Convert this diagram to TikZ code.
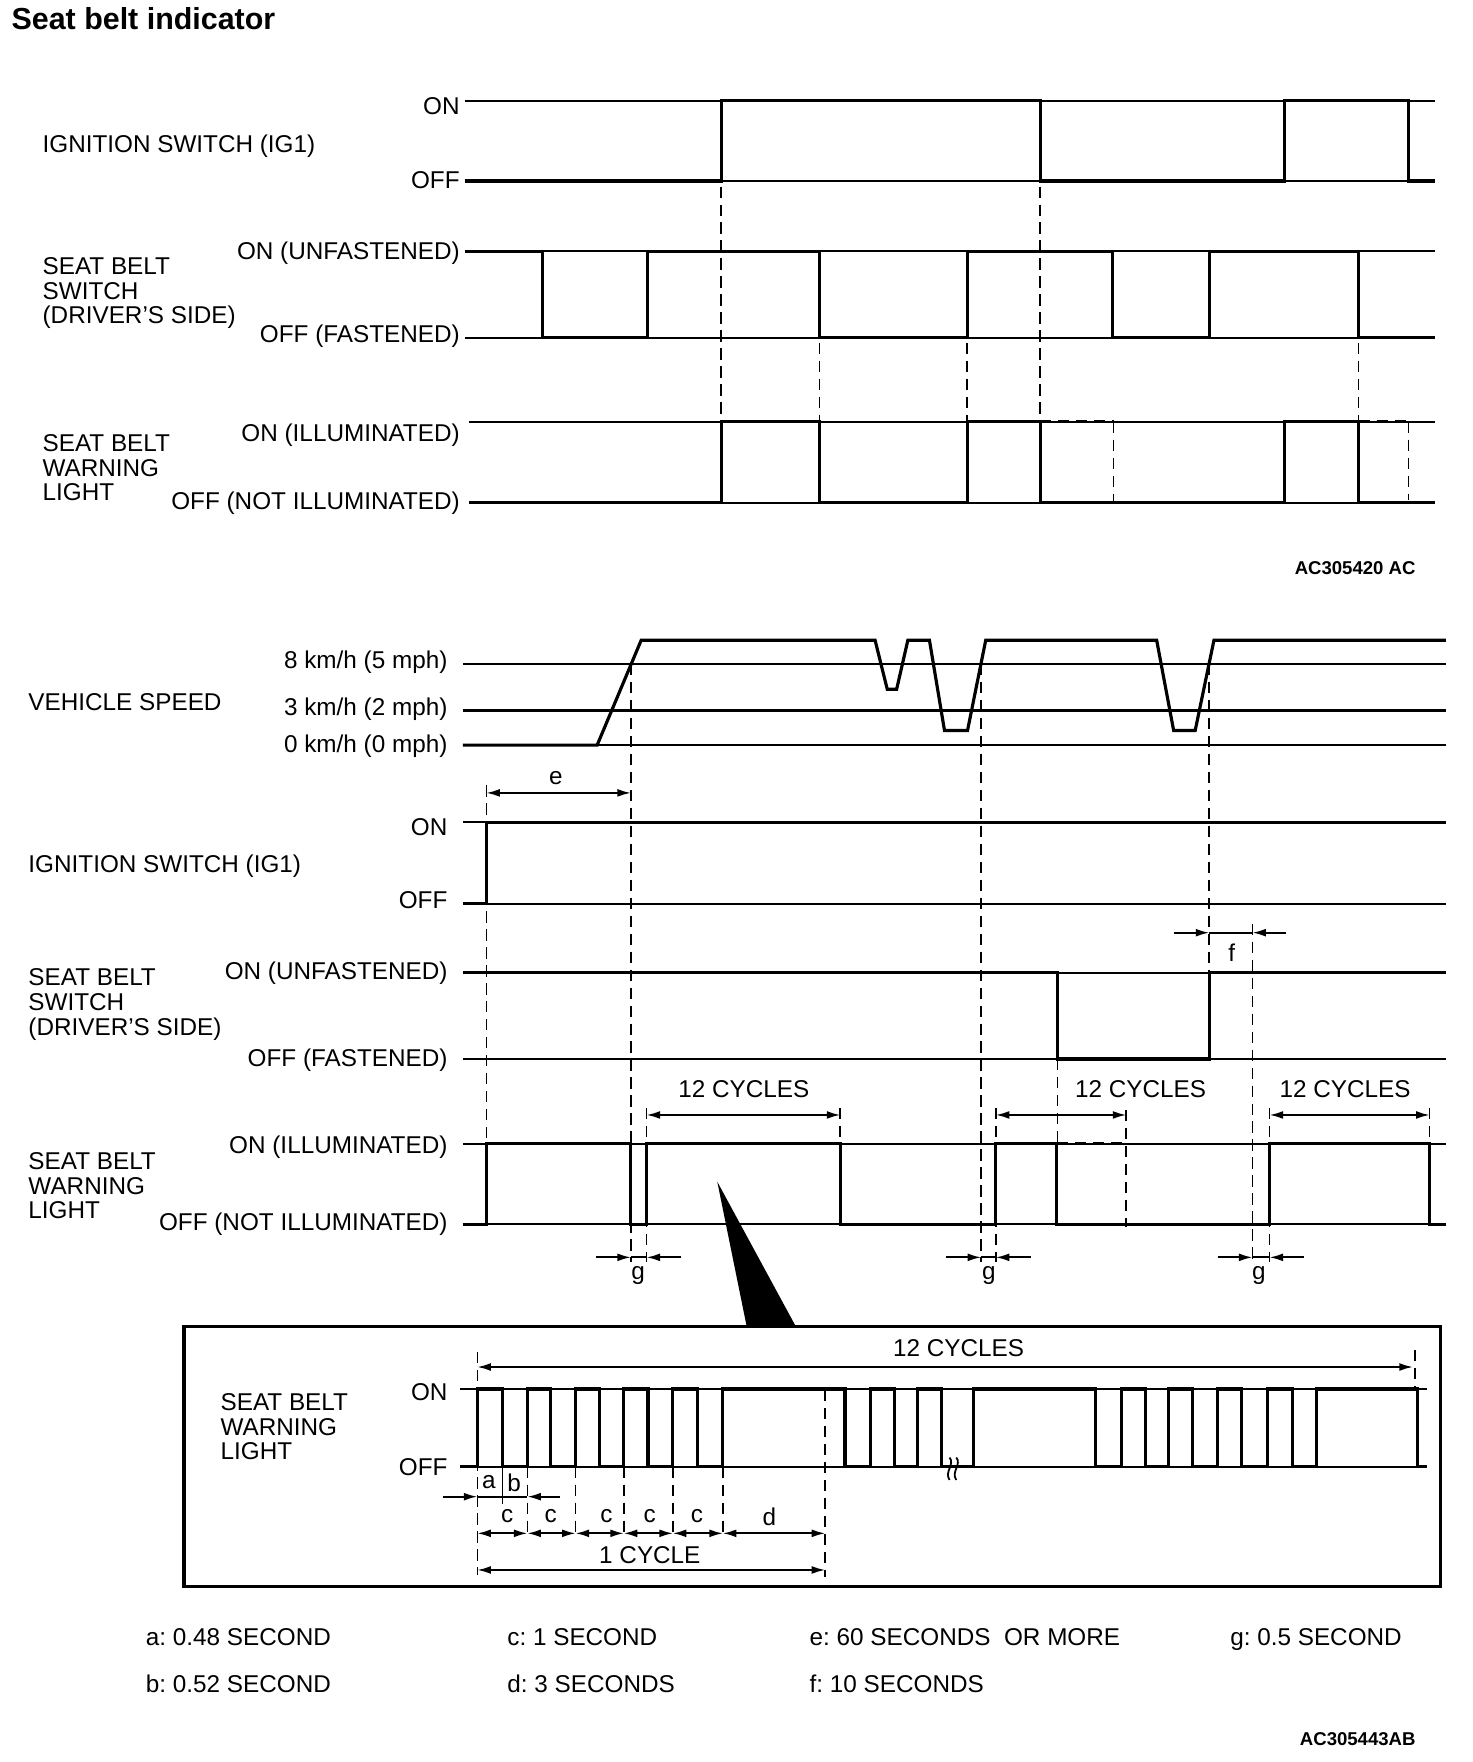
\documentclass[tikz,border=0pt]{standalone}
\usepackage{fontspec}
\setmainfont{Liberation Sans}
\usetikzlibrary{arrows.meta}
\frenchspacing
\tikzset{>={Latex[length=2.4mm,width=1.4mm]},
  base/.style={line width=1pt},
  wave/.style={line width=1.6pt},
  guide/.style={line width=0.85pt, dash pattern=on 2mm off 1.2mm},
  dim/.style={line width=0.9pt, <->},
  tip/.style={line width=0.9pt, ->},
  lbl/.style={inner sep=0pt, text height=8.8pt, text depth=0pt},
  lvl/.style={lbl, anchor=east},
  key/.style={lbl, anchor=west},
  sig/.style={anchor=west, inner sep=0pt, align=left},
  code/.style={anchor=east, inner sep=0pt, font=\bfseries\fontsize{9.4}{10}\selectfont}}

\begin{document}
\begin{tikzpicture}[x=0.2mm, y=-0.2mm, font=\fontsize{12.3}{12.5}\selectfont]
  \useasboundingbox (0,0) rectangle (1310,1568);
  \node[anchor=west, inner sep=0pt, font=\bfseries\fontsize{15.4}{17}\selectfont] (title) at (10,17) {Seat belt indicator};

  % upper chart
  \foreach \y in {89.6,161.1,223.7,300.4} \draw[base] (413.6,\y) -- (1276.6,\y);
  \foreach \y in {375.3,447.2} \draw[base] (417.7,\y) -- (1276.6,\y);
  \node[lvl] (ig1on)  at (409.4,94.5) {ON};
  \node[lvl] (ig1off) at (409.4,160) {OFF};
  \node[key] (ig1)    at (37.6,127.7) {IGNITION SWITCH (IG1)};
  \node[lvl] (sw1on)  at (409.4,223) {ON (UNFASTENED)};
  \node[lvl] (sw1off) at (409.4,297) {OFF (FASTENED)};
  \node[sig] (sw1)    at (37.6,261) {SEAT BELT\\SWITCH\\(DRIVER'S SIDE)};
  \node[lvl] (wl1on)  at (409.4,385) {ON (ILLUMINATED)};
  \node[lvl] (wl1off) at (409.4,446) {OFF (NOT ILLUMINATED)};
  \node[sig] (wl1)    at (37.6,416.2) {SEAT BELT\\WARNING\\LIGHT};
  \draw[wave] (413.6,161.1) \foreach \u/\d in {641.7/925.7, 1143/1253.3} { -| (\u,89.6) -| (\d,161.1) } -- (1276.6,161.1);
  \draw[wave] (413.6,223.7) \foreach \d/\u in {483/576.5, 729.4/860.6, 990/1076} { -| (\d,300.4) -| (\u,223.7) } -| (1209,300.4) -- (1276.6,300.4);
  \draw[wave] (417.7,447.2) \foreach \u/\d in {641.7/729.4, 860.6/925.7, 1143/1209} { -| (\u,375.3) -| (\d,447.2) } -- (1276.6,447.2);
  \draw[guide, line width=1.3pt] (925.7,375.3) -- (990.9,375.3);
  \draw[guide, line width=1.3pt] (1209,375.3) -- (1253.3,375.3);
  \draw[guide] (990.9,375.3) -- (990.9,447.2);
  \draw[guide] (1253.3,375.3) -- (1253.3,445);
  \foreach \x in {641.7,925.7} \draw[guide] (\x,166) -- (\x,375.3);
  \foreach \x in {729.4,860.6,1209} \draw[guide] (\x,305) -- (\x,375.3);
  \node[code] (fig1) at (1260,505.8) {AC305420 AC};

  % vehicle speed
  \foreach \y in {590.8,663.1} \draw[base] (411.9,\y) -- (1286.7,\y);
  \draw[base, line width=1.5pt] (411.9,632.5) -- (1286.7,632.5);
  \node[lvl] (v8) at (398.5,586.8) {8 km/h (5 mph)};
  \node[lvl] (v3) at (398.5,629.3) {3 km/h (2 mph)};
  \node[lvl] (v0) at (398.5,662.3) {0 km/h (0 mph)};
  \node[key] (vs) at (25,624.5) {VEHICLE SPEED};
  \draw[wave] (411.9,663.1) -- (531.4,663.1) -- (570.6,569.7) -- (778.7,569.7) -- (789.6,613.4) -- (797.9,613.4)
    -- (807.9,569.7) -- (827.1,569.7) -- (840.5,650) -- (861,650) -- (877.2,569.7) -- (1029.3,569.7)
    -- (1044.4,650) -- (1063.6,650) -- (1080.3,569.7) -- (1286.7,569.7);

  % ignition, lower chart
  \foreach \y in {731.8,804.1} \draw[base] (411.9,\y) -- (1286.7,\y);
  \node[lvl] (ig2on)  at (398.5,735.8) {ON};
  \node[lvl] (ig2off) at (398.5,801) {OFF};
  \node[key] (ig2)    at (25,769) {IGNITION SWITCH (IG1)};
  \draw[wave] (411.9,804.1) -| (432.8,731.8) -- (1286.7,731.8);

  % seat belt switch, lower chart
  \foreach \y in {865.7,942.4} \draw[base] (411.9,\y) -- (1286.7,\y);
  \node[lvl] (sw2on)  at (398.5,863.7) {ON (UNFASTENED)};
  \node[lvl] (sw2off) at (398.5,941.2) {OFF (FASTENED)};
  \node[sig] (sw2)    at (25,894) {SEAT BELT\\SWITCH\\(DRIVER'S SIDE)};
  \draw[wave] (411.9,865.7) -| (941,942.4) -| (1076.1,865.7) -- (1286.7,865.7);

  % warning light, lower chart
  \foreach \y in {1017.7,1089.3} \draw[base] (411.9,\y) -- (1286.7,\y);
  \node[lvl] (wl2on)  at (398.5,1018.7) {ON (ILLUMINATED)};
  \node[lvl] (wl2off) at (398.5,1087) {OFF (NOT ILLUMINATED)};
  \node[sig] (wl2)    at (25,1055.2) {SEAT BELT\\WARNING\\LIGHT};
  \draw[wave] (411.9,1089.3) \foreach \u/\d in {432.8/561.4, 575.4/747.8, 886.2/940.5, 1129.8/1272.2} { -| (\u,1017.7) -| (\d,1089.3) } -- (1286.7,1089.3);
  \draw[guide, line width=1.3pt] (940.5,1017.7) -- (1002.3,1017.7);
  \draw[guide] (1002.3,987.8) -- (1002.3,1091.6);

  % timing guides
  \draw[guide] (432.8,699) -- (432.8,1017.7);
  \foreach \x in {561.4,873.1} \draw[guide] (\x,590.8) -- (\x,1123);
  \draw[guide] (1076.1,590.8) -- (1076.1,865.7);
  \draw[guide] (1114.5,822) -- (1114.5,1123);
  \foreach \x in {575.4,886.2,1129.8} \draw[guide] (\x,986) -- (\x,1123);
  \foreach \x in {747.8,1272.2} \draw[guide] (\x,986) -- (\x,1017.7);
  \draw[guide] (941,942.4) -- (941,1017.7);

  \draw[dim] (432.8,705.6) -- (561.4,705.6);
  \node[lbl] (e) at (494.6,690) {e};
  \draw[tip] (1044.4,830) -- (1076.1,830);
  \draw[base] (1076.1,830) -- (1114.5,830);
  \draw[tip] (1144.6,830) -- (1114.5,830);
  \node[lbl] (f) at (1096.2,847.8) {f};
  \foreach \a/\b in {575.4/747.8, 886.2/1002.3, 1129.8/1272.2} \draw[dim] (\a,992.2) -- (\b,992.2);
  \node[lbl] (cyc1) at (662,968.5) {12 CYCLES};
  \node[lbl] (cyc2) at (1015,968.5) {12 CYCLES};
  \node[lbl] (cyc3) at (1197,968.5) {12 CYCLES};
  \foreach \a/\b in {561.4/575.4, 873.1/886.2, 1114.5/1129.8} {
    \draw[tip] (\a-31,1118.9) -- (\a,1118.9);
    \draw[base] (\a,1118.9) -- (\b,1118.9);
    \draw[tip] (\b+31,1118.9) -- (\b,1118.9);
  }
  \node[lbl] (g1) at (567.8,1131) {g};
  \node[lbl] (g2) at (880,1131) {g};
  \node[lbl] (g3) at (1120.2,1131) {g};

  % enlarged view
  \fill (638.3,1051.6) -- (664.5,1180.6) -- (708.3,1180.6) -- cycle;
  \draw[line width=1.6pt] (163.8,1180.6) rectangle (1282.2,1412);
  \foreach \y in {1236.1,1305.2} \draw[base] (409.4,\y) -- (1269.5,\y);
  \node[lvl] (bon)  at (398.6,1238.5) {ON};
  \node[lvl] (boff) at (398.6,1305) {OFF};
  \node[sig] (bwl)  at (196,1269.6) {SEAT BELT\\WARNING\\LIGHT};
  \draw[wave] (409.4,1305.2) \foreach \u/\d in {424.8/447, 469.3/490, 512.2/533.7, 555.1/576.6, 598.8/621,
    643.3/752, 774.8/795.8, 816.8/837.8, 866.4/975.1, 998/1019, 1039.9/1060.9, 1083.8/1104.8,
    1127.6/1150.5, 1171.5/1261.1} { -| (\u,1236.1) -| (\d,1305.2) } -- (1269.5,1305.2);
  \draw[line width=0.9pt] (845,1297) .. controls (850,1303) and (840,1310) .. (845,1317);
  \draw[line width=0.9pt] (851,1297) .. controls (856,1303) and (846,1310) .. (851,1317);
  \draw[dim] (424.8,1216.5) -- (1257.3,1216.5);
  \node[lbl] (cyc) at (853,1199) {12 CYCLES};
  \draw[guide] (424.8,1202.8) -- (424.8,1401.6);
  \draw[guide] (1259.2,1201.4) -- (1259.2,1236.1);
  \foreach \x in {469.3,512.2,555.1,598.8,643.3} \draw[guide] (\x,1305.2) -- (\x,1368);
  \draw[guide] (734.3,1237) -- (734.3,1403);
  % a, b
  \draw[line width=0.7pt] (447,1305.2) -- (447,1338);
  \draw[tip] (394.6,1331.9) -- (424.8,1331.9);
  \draw[base] (424.8,1331.9) -- (469.3,1331.9);
  \draw[tip] (497.9,1331.9) -- (469.3,1331.9);
  \node[lbl] (a) at (435,1317) {a};
  \node[lbl] (b) at (457.6,1319.5) {b};
  % c, d
  \foreach \a/\b in {424.8/469.3, 469.3/512.2, 512.2/555.1, 555.1/598.8, 598.8/643.3, 643.3/734.3}
    \draw[dim] (\a,1364.5) -- (\b,1364.5);
  \foreach \x [count=\i] in {451.4,490,539.6,578.2,620.3} \node[lbl] (c\i) at (\x,1347) {c};
  \node[lbl] (d) at (684.6,1349.7) {d};
  \node[lbl] (cycle) at (578.3,1383.8) {1 CYCLE};
  \draw[dim] (424.8,1397.1) -- (734.3,1397.1);

  % legend
  \node[key] (ka) at (129.5,1457) {a: 0.48 SECOND};
  \node[key] (kb) at (129.5,1498) {b: 0.52 SECOND};
  \node[key] (kc) at (451.2,1457) {c: 1 SECOND};
  \node[key] (kd) at (451.2,1498) {d: 3 SECONDS};
  \node[key] (ke) at (720.2,1457) {e: 60 SECONDS~ OR MORE};
  \node[key] (kf) at (720.2,1498) {f: 10 SECONDS};
  \node[key] (kg) at (1094.5,1457) {g: 0.5 SECOND};
  \node[code] (fig2) at (1260,1547.8) {AC305443AB};
\end{tikzpicture}
\end{document}
